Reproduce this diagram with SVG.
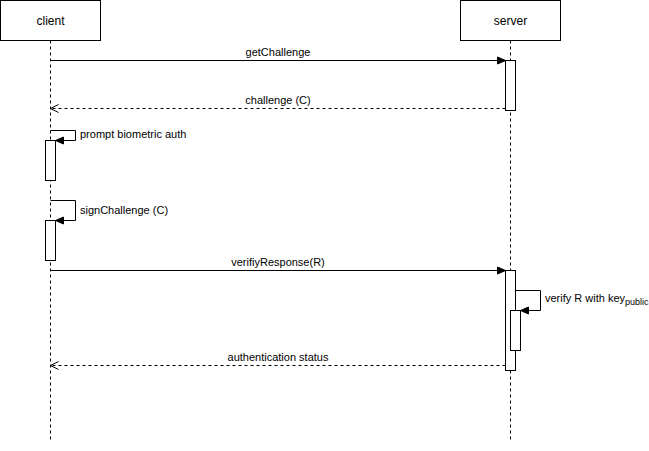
<svg xmlns="http://www.w3.org/2000/svg" width="649" height="451" viewBox="0 0 649 451">
<style>
.box{fill:#fff;stroke:#000;stroke-width:1}
.life{stroke:#000;stroke-width:1;stroke-dasharray:3 3;fill:none}
.msg{stroke:#000;stroke-width:1;fill:none}
.ret{stroke:#000;stroke-width:1;stroke-dasharray:3 3;fill:none}
.t{font-family:"Liberation Sans",Arial,Helvetica,sans-serif;font-size:11px;fill:#000}
.h{font-family:"Liberation Sans",Arial,Helvetica,sans-serif;font-size:12px;fill:#000}
</style>
<defs>
<marker id="fill" markerWidth="10" markerHeight="10" refX="9" refY="5" orient="auto" markerUnits="userSpaceOnUse">
<path d="M1,1.5 L9,5 L1,8.5 Z" fill="#000" stroke="#000" stroke-width="1"/>
</marker>
<marker id="open" markerWidth="12" markerHeight="12" refX="9" refY="6" orient="auto" markerUnits="userSpaceOnUse">
<path d="M1,2 L9,6 L1,10" fill="none" stroke="#000" stroke-width="1"/>
</marker>
</defs>
<rect width="649" height="451" fill="#fff"/>
<g id="client">
<line class="life" x1="50.5" y1="40.5" x2="50.5" y2="440"/>
<rect class="box" x="0.5" y="0.5" width="100" height="40"/>
<text class="h" x="50.5" y="24.5" text-anchor="middle">client</text>
</g>
<g id="server">
<line class="life" x1="510.5" y1="40.5" x2="510.5" y2="440"/>
<rect class="box" x="460.5" y="0.5" width="100" height="40"/>
<text class="h" x="510.5" y="24.5" text-anchor="middle">server</text>
</g>
<g id="connectors">
<line class="msg" x1="50.5" y1="60.5" x2="505.5" y2="60.5" marker-end="url(#fill)"/>
<line class="ret" x1="505.5" y1="108.5" x2="50.5" y2="108.5" marker-end="url(#open)"/>
<polyline class="msg" points="50.5,130.5 75.5,130.5 75.5,140.5 55.5,140.5" marker-end="url(#fill)"/>
<polyline class="msg" points="50.5,200.5 75.5,200.5 75.5,220.5 55.5,220.5" marker-end="url(#fill)"/>
<line class="msg" x1="50.5" y1="270.5" x2="505.5" y2="270.5" marker-end="url(#fill)"/>
<polyline class="msg" points="515.5,290.5 540.5,290.5 540.5,310.5 520.5,310.5" marker-end="url(#fill)"/>
<line class="ret" x1="505.5" y1="365.5" x2="50.5" y2="365.5" marker-end="url(#open)"/>
</g>
<g id="act-server-1"><rect class="box" x="505.5" y="60.5" width="10" height="50"/></g>
<g id="act-client-1"><rect class="box" x="45.5" y="140.5" width="10" height="40"/></g>
<g id="act-client-2"><rect class="box" x="45.5" y="220.5" width="10" height="40"/></g>
<g id="act-server-2"><rect class="box" x="505.5" y="270.5" width="10" height="100"/></g>
<g id="act-server-3"><rect class="box" x="510.5" y="310.5" width="10" height="40"/></g>
<g id="labels">
<text class="t" x="278" y="56" text-anchor="middle">getChallenge</text>
<text class="t" x="278" y="104" text-anchor="middle">challenge (C)</text>
<text class="t" x="80" y="138">prompt biometric auth</text>
<text class="t" x="80" y="214">signChallenge (C)</text>
<text class="t" x="278" y="266" text-anchor="middle">verifiyResponse(R)</text>
<text class="t" x="545" y="302">verify R with key<tspan font-size="9px" dy="3">public</tspan></text>
<text class="t" x="278" y="361" text-anchor="middle">authentication status</text>
</g>
</svg>
